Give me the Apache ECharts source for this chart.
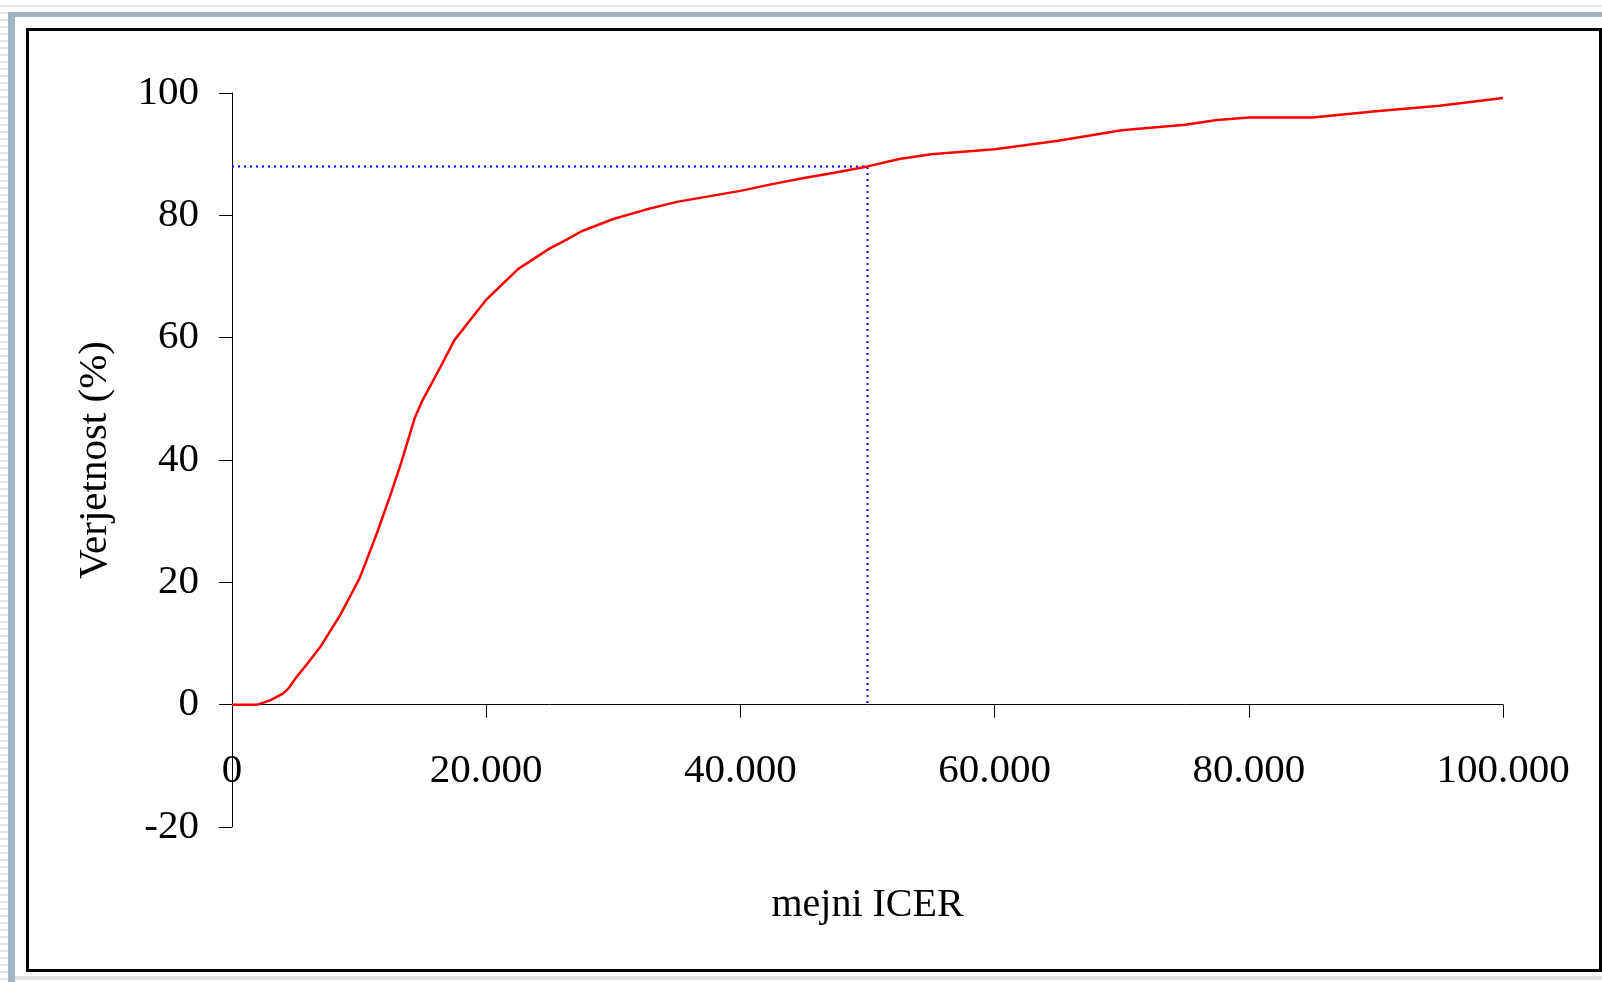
<!DOCTYPE html>
<html>
<head>
<meta charset="utf-8">
<script src="https://cdn.jsdelivr.net/npm/echarts@6/dist/echarts.min.js"></script>
<style>
  html, body { margin: 0; padding: 0; }
  body {
    width: 1602px; height: 982px; overflow: hidden; position: relative;
    background: repeating-linear-gradient(to bottom, #ffffff 0px, #ffffff 5px, #e4e4e4 5px, #e4e4e4 7px);
  }
  #sideBar { position: absolute; left: 8px; top: 12px; width: 7px; height: 970px; background: #a4b4c4; }
  #topBar { position: absolute; left: 8px; top: 12px; width: 1594px; height: 5px; background: #a4b4c4; }
  #panel { position: absolute; left: 15px; top: 17px; width: 1587px; height: 959px; background: #ffffff;
           border-bottom: 2px solid #e0e0e0; }
  #box { position: absolute; left: 26px; top: 28px; width: 1576px; height: 944px; box-sizing: border-box;
         border: 3px solid #000; background: #ffffff; }
  #chart { position: absolute; left: 0; top: 0; width: 1602px; height: 982px; }
</style>
</head>
<body>
<div id="sideBar"></div>
<div id="topBar"></div>
<div id="panel"></div>
<div id="box"></div>
<div id="chart"></div>
<script>
// Willingness-to-pay threshold (mejni ICER) and probability of cost-effectiveness (%)
const icer = [0, 2000, 3000, 4000, 4500, 5000, 6000, 7000, 8500, 10000, 10500, 11500, 12500, 13300,
  14400, 15000, 16400, 17500, 20000, 22500, 25000, 26300, 27500, 30000, 32500, 35000,
  37500, 40000, 42500, 45000, 47500, 50000, 52500, 55000, 60000, 65000, 70000, 75000, 77500, 80000,
  85000, 90000, 95000, 100000];
const probability = [0, 0, 0.7, 1.8, 2.8, 4.3, 6.9, 9.6, 14.6, 20.5, 23.1, 28.6, 34.5, 39.5,
  47.0, 49.8, 55.2, 59.6, 66.2, 71.2, 74.6, 76.0, 77.4, 79.4, 80.9, 82.2,
  83.1, 84.0, 85.1, 86.1, 87.0, 88.0, 89.2, 90.0, 90.8, 92.2, 93.9, 94.8, 95.6, 96.0,
  96.0, 97.0, 97.9, 99.2];

// Reference: probability reached at a threshold of 50.000
const refIcer = 50000;
const refProb = 88;

const yTicks = { min: -20, max: 100, step: 20 };
const xTicks = { min: 0, max: 100000, step: 20000 };

const curve = icer.map((x, i) => [x, probability[i]]);
const guide = [[xTicks.min, refProb], [refIcer, refProb], [refIcer, 0]];

const font = 'Liberation Serif, Times New Roman, serif';

const gridBox = { left: 232, right: 99, top: 93, bottom: 155 };
const plotHeight = 982 - gridBox.top - gridBox.bottom;
// lift the horizontal axis from the bottom edge up to the zero line
const zeroLift = plotHeight * (0 - yTicks.min) / (yTicks.max - yTicks.min);

function thousands(v) {
  return String(v).replace(/\B(?=(\d{3})+(?!\d))/g, '.');
}

const chart = echarts.init(document.getElementById('chart'), null, { renderer: 'canvas' });
chart.setOption({
  backgroundColor: 'transparent',
  animation: false,
  grid: Object.assign({ containLabel: false, outerBoundsMode: 'none' }, gridBox),
  xAxis: {
    type: 'value',
    min: xTicks.min, max: xTicks.max, interval: xTicks.step,
    offset: -zeroLift,
    name: 'mejni ICER', nameLocation: 'middle', nameGap: 181,
    nameTextStyle: { fontFamily: font, fontSize: 40, color: '#000' },
    axisLine: { show: true, onZero: false, lineStyle: { color: '#000', width: 1 } },
    axisTick: { show: true, inside: false, length: 13, lineStyle: { color: '#000', width: 1 } },
    axisLabel: { fontFamily: font, fontSize: 41, color: '#000', margin: 46, formatter: thousands },
    splitLine: { show: false }
  },
  yAxis: {
    type: 'value',
    min: yTicks.min, max: yTicks.max, interval: yTicks.step,
    name: 'Verjetnost (%)', nameLocation: 'middle', nameGap: 116,
    nameTextStyle: { fontFamily: font, fontSize: 41, color: '#000' },
    axisLine: { show: true, onZero: false, lineStyle: { color: '#000', width: 1 } },
    axisTick: { show: true, inside: false, length: 13, lineStyle: { color: '#000', width: 1 } },
    axisLabel: { fontFamily: font, fontSize: 41, color: '#000', margin: 33 },
    splitLine: { show: false }
  },
  series: [
    {
      type: 'line', data: guide, symbol: 'none', silent: true, z: 1,
      lineStyle: { color: '#0000ff', width: 2, type: [2, 4] }
    },
    {
      type: 'line', data: curve, symbol: 'none', smooth: false, z: 2,
      lineStyle: { color: '#ff0000', width: 2.5 }
    }
  ]
});
</script>
</body>
</html>
